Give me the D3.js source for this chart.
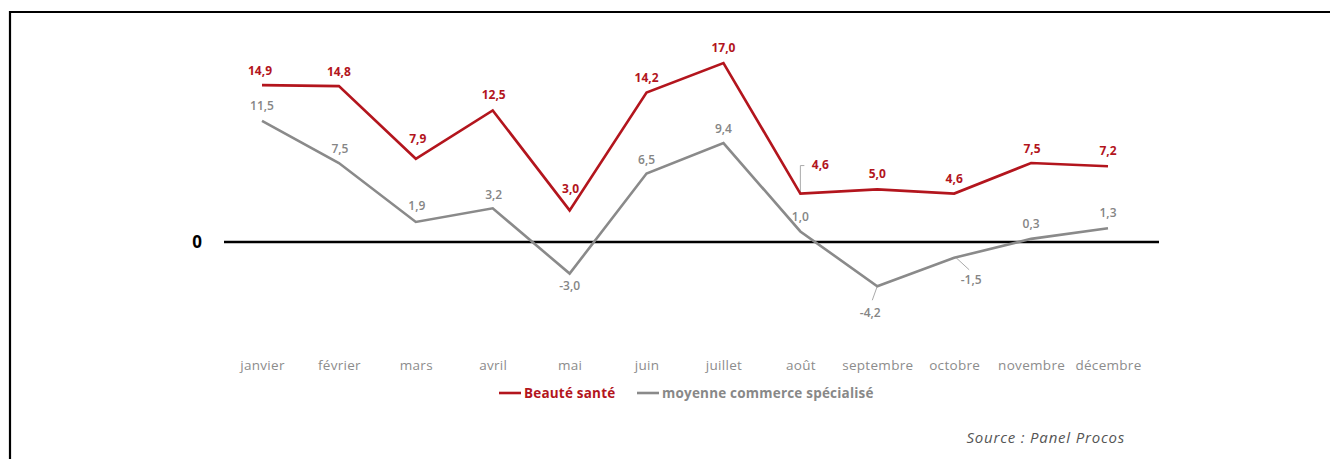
<!DOCTYPE html>
<html>
<head>
<meta charset="utf-8">
<script src="https://cdn.jsdelivr.net/npm/d3@7"></script>
<style>
  html, body { margin: 0; padding: 0; background: #fff; }
  svg { display: block; }
  text { font-family: "Open Sans", Lato, sans-serif; }
</style>
</head>
<body>
<svg id="chart" width="1330" height="459"></svg>
<script>
// Monthly change (%) — Beauté santé vs. specialised retail average
const months = ["janvier", "février", "mars", "avril", "mai", "juin", "juillet",
                "août", "septembre", "octobre", "novembre", "décembre"];
const beauteSante = [14.9, 14.8, 7.9, 12.5, 3.0, 14.2, 17.0, 4.6, 5.0, 4.6, 7.5, 7.2];
const moyenneCommerce = [11.5, 7.5, 1.9, 3.2, -3.0, 6.5, 9.4, 1.0, -4.2, -1.5, 0.3, 1.3];
const seriesNames = ["Beauté santé", "moyenne commerce spécialisé"];
const zeroLabel = "0";
const sourceText = "Source : Panel Procos";

// Label placement relative to each point: [dx, dy] to the text baseline
const redLabelOffsets = [[-2,-10],[0,-10],[2,-16],[1,-11],[1,-17],[0,-10],[0,-11],[20,-25],[0,-11],[0,-11],[1,-10],[0,-11]];
const grayLabelOffsets = [[0,-11],[1,-10],[1,-12],[1,-9],[0,16],[0,-10],[0,-10],[0,-10],[-7,31],[17,26],[0,-11],[0,-11]];

const RED = "#b3151d";
const GRAY = "#8a8a8a";

const svg = d3.select("#chart");

// frame
svg.append("path")
  .attr("d", "M1332,12 H10 V461")
  .attr("fill", "none")
  .attr("stroke", "#000")
  .attr("stroke-width", 2.2);

const x = d3.scalePoint().domain(months).range([262, 1108]);
const y = d3.scaleLinear().domain([0, 17]).range([242, 63]);

// zero line
svg.append("line")
  .attr("x1", 224).attr("x2", 1159)
  .attr("y1", y(0)).attr("y2", y(0))
  .attr("stroke", "#000").attr("stroke-width", 2.4);
svg.append("text")
  .attr("x", 197).attr("y", y(0) + 6)
  .attr("text-anchor", "middle")
  .attr("font-family", "'Liberation Sans', Arial, sans-serif")
  .attr("font-size", 17).attr("font-weight", 700)
  .attr("fill", "#000")
  .text(zeroLabel);

// month axis
const axis = svg.append("g")
  .attr("transform", "translate(0,360)")
  .call(d3.axisBottom(x).tickSize(0).tickPadding(0));
axis.select(".domain").remove();
axis.selectAll("text")
  .attr("font-family", "'Open Sans', sans-serif")
  .attr("font-size", 13.5)
  .attr("letter-spacing", 0.3)
  .attr("fill", "#8c8c8c");

const line = d3.line()
  .x((d, i) => x(months[i]))
  .y(d => y(d));

// leader lines for labels that sit away from their point
const leaders = [
  [[x("août"), y(4.6)], [x("août"), y(4.6) - 28], [x("août") + 4, y(4.6) - 28]],
  [[x("septembre"), y(-4.2)], [x("septembre") - 5, y(-4.2) + 14]],
  [[x("octobre") + 2, y(-1.5)], [x("octobre") + 15, y(-1.5) + 12]]
];
leaders.forEach(pts => {
  svg.append("path")
    .attr("d", d3.line()(pts))
    .attr("fill", "none")
    .attr("stroke", "#aaa")
    .attr("stroke-width", 1);
});

svg.append("path")
  .datum(moyenneCommerce)
  .attr("d", line)
  .attr("fill", "none")
  .attr("stroke", GRAY)
  .attr("stroke-width", 2.6)
  .attr("stroke-linejoin", "miter");

svg.append("path")
  .datum(beauteSante)
  .attr("d", line)
  .attr("fill", "none")
  .attr("stroke", RED)
  .attr("stroke-width", 2.6)
  .attr("stroke-linejoin", "miter");

const fmt = v => d3.format(".1f")(v).replace(".", ",").replace("−", "-");

svg.append("g").selectAll("text")
  .data(beauteSante)
  .join("text")
  .attr("x", (d, i) => x(months[i]) + redLabelOffsets[i][0])
  .attr("y", (d, i) => y(d) + redLabelOffsets[i][1])
  .attr("text-anchor", "middle")
  .attr("font-size", 12).attr("font-weight", 700)
  .attr("fill", RED)
  .text(fmt);

svg.append("g").selectAll("text")
  .data(moyenneCommerce)
  .join("text")
  .attr("x", (d, i) => x(months[i]) + grayLabelOffsets[i][0])
  .attr("y", (d, i) => y(d) + grayLabelOffsets[i][1])
  .attr("text-anchor", "middle")
  .attr("font-size", 12).attr("font-weight", 600)
  .attr("fill", "#858585")
  .text(fmt);

// legend
const legend = svg.append("g").attr("transform", "translate(0,393)");
const legendItems = [
  { name: seriesNames[0], color: RED, x: 499, textColor: RED },
  { name: seriesNames[1], color: GRAY, x: 637, textColor: "#888" }
];
legendItems.forEach(it => {
  legend.append("line")
    .attr("x1", it.x).attr("x2", it.x + 22)
    .attr("y1", 0).attr("y2", 0)
    .attr("stroke", it.color).attr("stroke-width", 2.6);
  legend.append("text")
    .attr("x", it.x + 25).attr("y", 4.5)
    .attr("font-size", 13.5).attr("font-weight", 700)
    .attr("letter-spacing", 0.2)
    .attr("fill", it.textColor)
    .text(it.name);
});

// source note
svg.append("text")
  .attr("x", 1125).attr("y", 443)
  .attr("text-anchor", "end")
  .attr("font-size", 15).attr("font-style", "italic")
  .attr("letter-spacing", 0.8)
  .attr("fill", "#555")
  .text(sourceText);
</script>
</body>
</html>
